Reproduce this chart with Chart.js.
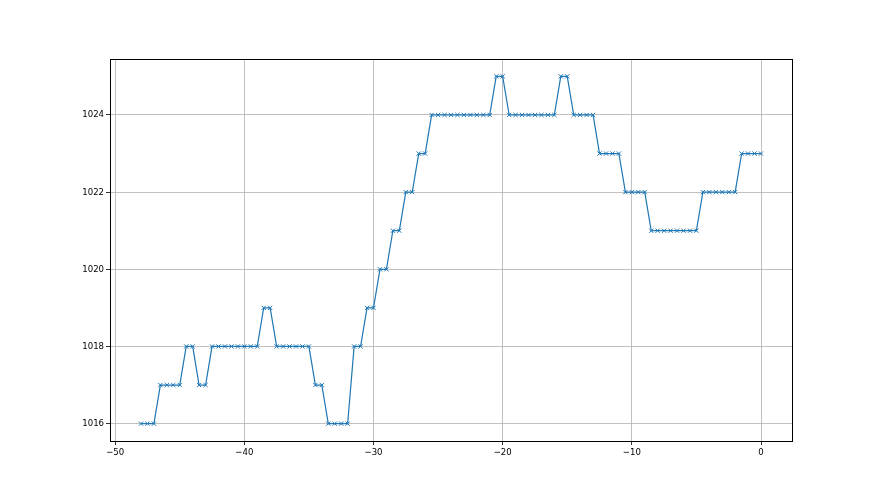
<!DOCTYPE html>
<html>
<head>
<meta charset="utf-8">
<script src="https://cdn.jsdelivr.net/npm/chart.js@4/dist/chart.umd.min.js"></script>
<style>
  html, body { margin: 0; padding: 0; background: #fff; }
  #wrap { width: 880px; height: 495px; }
</style>
</head>
<body>
<div id="wrap"><canvas id="chart" width="880" height="495"></canvas></div>
<script>
// x positions, step 0.5 from -48 to 0
const xValues = [];
for (let i = 0; i <= 96; i++) xValues.push(-48 + i * 0.5);

const pressure = [
  1016, 1016, 1016,
  1017, 1017, 1017, 1017,
  1018, 1018,
  1017, 1017,
  1018, 1018, 1018, 1018, 1018, 1018, 1018, 1018,
  1019, 1019,
  1018, 1018, 1018, 1018, 1018, 1018,
  1017, 1017,
  1016, 1016, 1016, 1016,
  1018, 1018,
  1019, 1019,
  1020, 1020,
  1021, 1021,
  1022, 1022,
  1023, 1023,
  1024, 1024, 1024, 1024, 1024, 1024, 1024, 1024, 1024, 1024,
  1025, 1025,
  1024, 1024, 1024, 1024, 1024, 1024, 1024, 1024,
  1025, 1025,
  1024, 1024, 1024, 1024,
  1023, 1023, 1023, 1023,
  1022, 1022, 1022, 1022,
  1021, 1021, 1021, 1021, 1021, 1021, 1021, 1021,
  1022, 1022, 1022, 1022, 1022, 1022,
  1023, 1023, 1023, 1023
];

const xTicks = [-50, -40, -30, -20, -10, 0];
const yTicks = [1016, 1018, 1020, 1022, 1024];

const points = xValues.map((x, i) => ({ x: x, y: pressure[i] }));

// draw the full axes box like matplotlib
const frame = {
  id: 'frame',
  afterDraw(chart) {
    const { ctx, chartArea: a } = chart;
    ctx.save();
    ctx.strokeStyle = '#000';
    ctx.lineWidth = 1;
    ctx.strokeRect(Math.round(a.left) + 0.5, Math.round(a.top) + 0.5,
      Math.round(a.right - a.left), Math.round(a.bottom - a.top));
    ctx.restore();
  }
};

const fmt = v => (v < 0 ? '\u2212' + Math.abs(v) : String(v));
const tickFont = { family: "'Liberation Sans Narrow', 'DejaVu Sans Condensed', sans-serif", size: 9.5 };

new Chart(document.getElementById('chart'), {
  type: 'line',
  data: {
    datasets: [{
      data: points,
      borderColor: '#1f77b4',
      backgroundColor: '#1f77b4',
      borderWidth: 1.2,
      pointStyle: 'crossRot',
      pointRadius: 3,
      pointBorderWidth: 1,
      pointHoverRadius: 3,
      tension: 0,
      fill: false
    }]
  },
  options: {
    responsive: false,
    animation: false,
    layout: { padding: { left: 60, top: 59, right: 88, bottom: 24 } },
    plugins: {
      legend: { display: false },
      tooltip: { enabled: false }
    },
    scales: {
      x: {
        type: 'linear',
        min: -50.4,
        max: 2.4,
        afterBuildTicks: axis => { axis.ticks = xTicks.map(v => ({ value: v })); },
        afterFit: axis => { axis.height = 30; },
        grid: { color: '#b0b0b0', lineWidth: 0.8, tickColor: '#000', tickLength: 4 },
        border: { display: false },
        ticks: {
          color: '#000',
          font: tickFont,
          padding: 2,
          maxRotation: 0,
          callback: v => fmt(v)
        }
      },
      y: {
        type: 'linear',
        min: 1015.55,
        max: 1025.45,
        afterBuildTicks: axis => { axis.ticks = yTicks.map(v => ({ value: v })); },
        afterFit: axis => { axis.width = 50; },
        grid: { color: '#b0b0b0', lineWidth: 0.8, tickColor: '#000', tickLength: 4 },
        border: { display: false },
        ticks: {
          color: '#000',
          font: tickFont,
          padding: 2,
          callback: v => fmt(v)
        }
      }
    }
  },
  plugins: [frame]
});
</script>
</body>
</html>
